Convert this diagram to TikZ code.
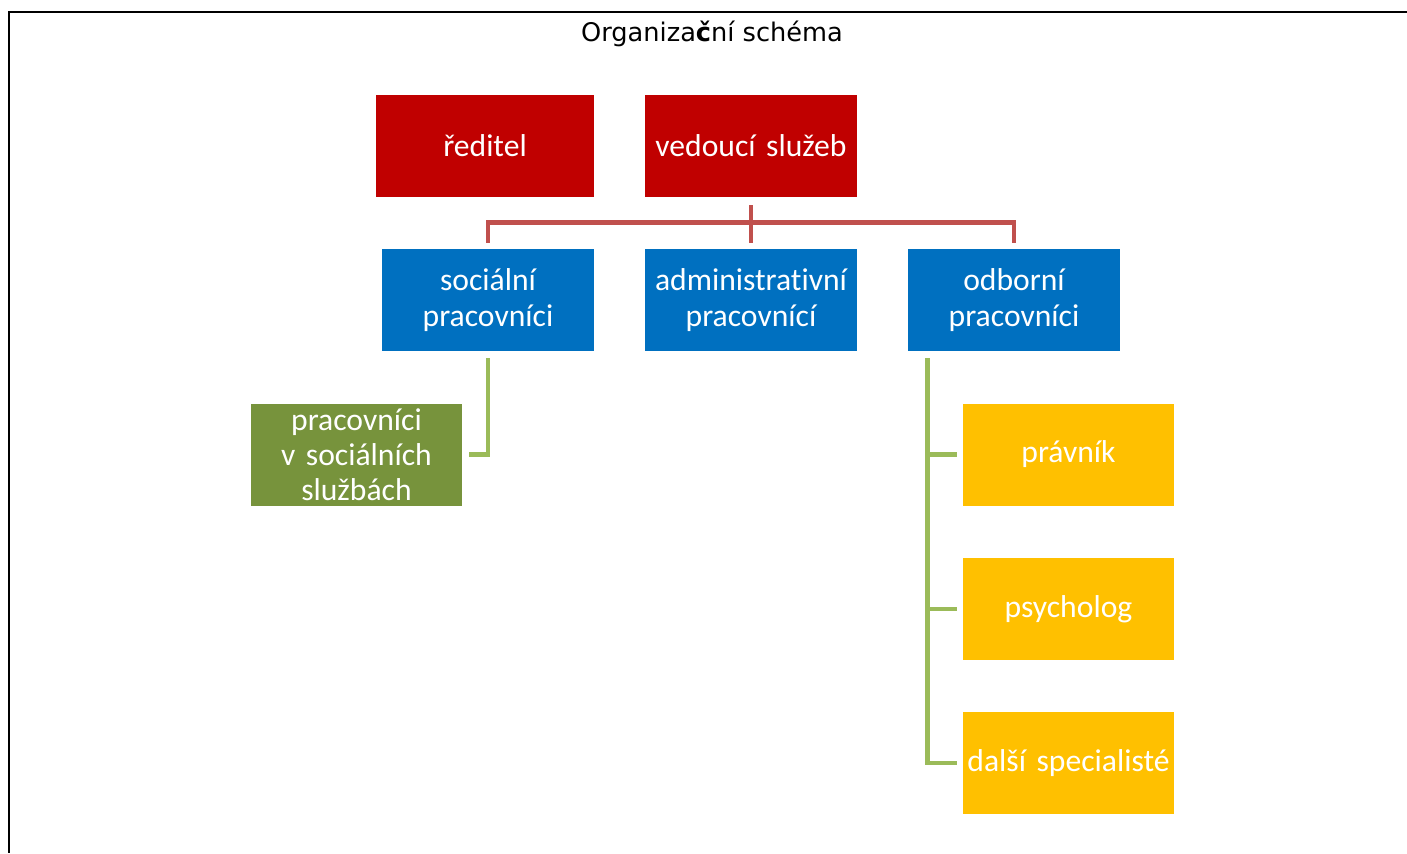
\documentclass[tikz,border=0pt]{standalone}
\usepackage{fontspec}
\newfontfamily\boxfont[Ligatures=NoCommon,WordSpace=0.8]{Carlito}
\newfontfamily\titlefont{DejaVu Sans}
\usetikzlibrary{
	calc,
	positioning
}
\definecolor{orgRed}{HTML}{C00000}
\definecolor{orgBlue}{HTML}{0070C0}
\definecolor{orgGreen}{HTML}{77933C}
\definecolor{orgYellow}{HTML}{FFC000}
\definecolor{redLine}{HTML}{C0504D}
\definecolor{greenLine}{HTML}{9BBB59}
\tikzset{
	orgbox/.style={rectangle,inner sep=0.5mm,minimum width=4.24cm,minimum height=2.04cm,
		text width=4.1cm,align=center,text=white,
		font=\boxfont\fontsize{18}{20}\selectfont},
	redbox/.style={orgbox,fill=orgRed},
	bluebox/.style={orgbox,fill=orgBlue},
	greenbox/.style={orgbox,fill=orgGreen},
	yellowbox/.style={orgbox,fill=orgYellow},
	redlink/.style={draw=redLine,line width=2.8pt},
	greenlink/.style={draw=greenLine,line width=2.8pt}
}
\newcommand{\orgBox}[4][]{\node (#3) at #2 [#1]{#4};}

\begin{document}
\begin{tikzpicture}[x=0.02cm,y=-0.02cm]
	\useasboundingbox (0,0) rectangle (1407,853);
	\draw[line width=1.7pt] (1407,12) -- (9,12) -- (9,853);
	
	\node (title) at (712,34) [font=\titlefont\fontsize{14.6}{16}\selectfont]{Organiza\textbf{č}ní schéma};
	
	\orgBox[redbox,minimum width=4.36cm]{(485,146)}{reditel}{ředitel};
	\orgBox[redbox]{(751,146)}{vedouci}{vedoucí služeb};
	
	\orgBox[bluebox]{(488,300)}{socialni}{sociální\\pracovníci};
	\orgBox[bluebox]{(751,300)}{admin}{administrativní\\pracovnící};
	\orgBox[bluebox]{(1014,300)}{odborni}{odborní\\pracovníci};
	
	\orgBox[greenbox]{(356.5,454.5)}{pracsoc}{pracovníci\\v sociálních\\službách};
	
	\orgBox[yellowbox]{(1068.5,454.5)}{pravnik}{právník};
	\orgBox[yellowbox]{(1068.5,609)}{psycholog}{psycholog};
	\orgBox[yellowbox]{(1068.5,763)}{dalsi}{další specialisté};
	
	% red tree
	\coordinate (bus) at ($(vedouci.south)+(0,25)$);
	\draw[redlink,shorten <=0.16cm] (vedouci.south) -- (bus);
	\draw[redlink,shorten >=0.12cm] (bus) -| (socialni);
	\draw[redlink,shorten >=0.12cm] (bus) -| (odborni);
	\draw[redlink,shorten >=0.12cm] (bus) -- (admin);
	
	% green trees
	\draw[greenlink,shorten <=0.14cm,shorten >=0.12cm] (socialni.south) |- (pracsoc.east);
	\coordinate (odTop) at ([xshift=0.4cm]odborni.south west);
	\draw[greenlink,shorten <=0.14cm,shorten >=0.1cm] (odTop) |- (pravnik.west);
	\draw[greenlink,shorten <=0.14cm,shorten >=0.1cm] (odTop) |- (psycholog.west);
	\draw[greenlink,shorten <=0.14cm,shorten >=0.1cm] (odTop) |- (dalsi.west);
\end{tikzpicture}
\end{document}
